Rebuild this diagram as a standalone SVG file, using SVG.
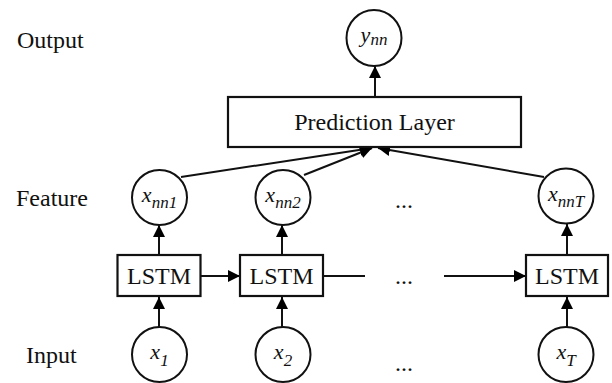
<svg xmlns="http://www.w3.org/2000/svg" width="612" height="383" viewBox="0 0 612 383">
<defs>
<marker id="ah" markerUnits="userSpaceOnUse" markerWidth="14" markerHeight="14" refX="12" refY="7" orient="auto">
<path d="M0,1 L12,7 L0,13 z" fill="#000"/>
</marker>
<style>
text{font-family:"Liberation Serif","DejaVu Serif",serif}
.lbl{font-size:24px;fill:#111}
.var{font-size:22px;font-style:italic;fill:#111}
.sub{font-size:17px}
.node{fill:#fff;stroke:#111;stroke-width:2}
.box{fill:#fff;stroke:#111;stroke-width:2.2}
.edge{stroke:#111;stroke-width:2;fill:none;marker-end:url(#ah)}
.plain{stroke:#111;stroke-width:2;fill:none}
</style>
</defs>
<rect width="612" height="383" fill="#fff"/>
<g id="row-labels" font-family="Liberation Serif, DejaVu Serif, serif">
<text class="lbl" x="17" y="48">Output</text>
<text class="lbl" x="16" y="206">Feature</text>
<text class="lbl" x="26" y="363">Input</text>
</g>
<g id="connectors">
<line class="edge" x1="375" y1="97" x2="375" y2="66"/>
<line class="edge" x1="181" y1="177" x2="372" y2="148"/>
<line class="edge" x1="304" y1="175" x2="372" y2="148"/>
<line class="edge" x1="544" y1="177" x2="378" y2="148"/>
<line class="edge" x1="159" y1="255" x2="159" y2="225"/>
<line class="edge" x1="282" y1="255" x2="282" y2="225"/>
<line class="edge" x1="567" y1="255" x2="567" y2="224"/>
<line class="edge" x1="159" y1="327" x2="159" y2="297"/>
<line class="edge" x1="282" y1="327" x2="282" y2="297"/>
<line class="edge" x1="567" y1="327" x2="567" y2="297"/>
<line class="edge" x1="201" y1="276" x2="240" y2="276"/>
<line class="plain" x1="323" y1="276" x2="365" y2="276"/>
<line class="edge" x1="444" y1="276" x2="526" y2="276"/>
</g>
<g id="y_nn" font-family="Liberation Serif, DejaVu Serif, serif">
<ellipse class="node" cx="374" cy="38" rx="27.5" ry="28"/>
<text class="var" x="374" y="42" text-anchor="middle">y<tspan class="sub" dy="3">nn</tspan></text>
</g>
<g id="prediction-layer" font-family="Liberation Serif, DejaVu Serif, serif">
<rect class="box" x="228" y="97" width="293" height="50"/>
<text class="lbl" x="374.5" y="130" text-anchor="middle">Prediction Layer</text>
</g>
<g id="x_nn1" font-family="Liberation Serif, DejaVu Serif, serif">
<ellipse class="node" cx="159.5" cy="197.5" rx="27.5" ry="27.5"/>
<text class="var" x="159.5" y="202" text-anchor="middle">x<tspan class="sub" dy="6">nn1</tspan></text>
</g>
<g id="x_nn2" font-family="Liberation Serif, DejaVu Serif, serif">
<ellipse class="node" cx="283" cy="197.5" rx="27.5" ry="27.5"/>
<text class="var" x="283" y="202" text-anchor="middle">x<tspan class="sub" dy="6">nn2</tspan></text>
</g>
<g id="x_nnT" font-family="Liberation Serif, DejaVu Serif, serif">
<ellipse class="node" cx="566" cy="196" rx="27.5" ry="27.5"/>
<text class="var" x="566" y="201" text-anchor="middle">x<tspan class="sub" dy="6">nnT</tspan></text>
</g>
<g id="dots" font-family="Liberation Serif, DejaVu Serif, serif">
<text class="lbl" x="404" y="208" text-anchor="middle">...</text>
<text class="lbl" x="404" y="284" text-anchor="middle">...</text>
<text class="lbl" x="404" y="371" text-anchor="middle">...</text>
</g>
<g id="lstm1" font-family="Liberation Serif, DejaVu Serif, serif">
<rect class="box" x="117.5" y="255" width="83" height="41"/>
<text class="lbl" x="159" y="284" text-anchor="middle">LSTM</text>
</g>
<g id="lstm2" font-family="Liberation Serif, DejaVu Serif, serif">
<rect class="box" x="240" y="255" width="83" height="41"/>
<text class="lbl" x="281.5" y="284" text-anchor="middle">LSTM</text>
</g>
<g id="lstmT" font-family="Liberation Serif, DejaVu Serif, serif">
<rect class="box" x="526" y="255" width="82" height="41"/>
<text class="lbl" x="567" y="284" text-anchor="middle">LSTM</text>
</g>
<g id="x_1" font-family="Liberation Serif, DejaVu Serif, serif">
<ellipse class="node" cx="159.5" cy="354.5" rx="27.5" ry="27.5"/>
<text class="var" x="159.5" y="359" text-anchor="middle">x<tspan class="sub" dy="7">1</tspan></text>
</g>
<g id="x_2" font-family="Liberation Serif, DejaVu Serif, serif">
<ellipse class="node" cx="283" cy="354.5" rx="27.5" ry="27.5"/>
<text class="var" x="283" y="359" text-anchor="middle">x<tspan class="sub" dy="7">2</tspan></text>
</g>
<g id="x_T" font-family="Liberation Serif, DejaVu Serif, serif">
<ellipse class="node" cx="566" cy="354.5" rx="27.5" ry="27.5"/>
<text class="var" x="566" y="359" text-anchor="middle">x<tspan class="sub" dy="7">T</tspan></text>
</g>
</svg>
